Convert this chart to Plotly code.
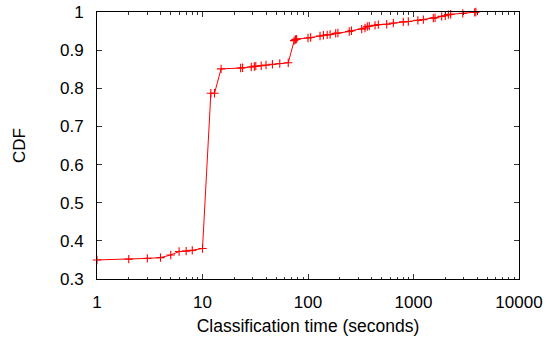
import plotly.graph_objects as go

# Classification time (seconds) and cumulative fraction
times = [1, 2, 3, 4, 5, 6, 7, 8, 10, 12, 13, 15, 23, 24, 29, 31, 32, 36, 40, 46, 54, 65,
         74, 76, 78, 100, 106, 130, 140, 152, 162, 183, 192, 246, 258, 323, 347, 365, 381,
         432, 464, 557, 644, 800, 893, 1100, 1240, 1540, 1600, 1850, 2000, 2140, 2250,
         2930, 3800, 3900]
cdf = [0.350, 0.352, 0.354, 0.356, 0.363, 0.372, 0.373, 0.375, 0.380, 0.787, 0.787, 0.851,
       0.853, 0.854, 0.856, 0.857, 0.858, 0.859, 0.861, 0.863, 0.865, 0.867,
       0.925, 0.928, 0.929, 0.932, 0.933, 0.937, 0.939, 0.940, 0.941, 0.944, 0.945, 0.949,
       0.951, 0.955, 0.958, 0.962, 0.963, 0.965, 0.967, 0.968, 0.971, 0.974, 0.975, 0.978,
       0.980, 0.984, 0.985, 0.9885, 0.990, 0.993, 0.994, 0.9965, 0.999, 1.0]

x_ticks = [1, 10, 100, 1000, 10000]
x_tick_labels = ["1", "10", "100", "1000", "10000"]
y_ticks = [0.3, 0.4, 0.5, 0.6, 0.7, 0.8, 0.9, 1.0]
y_tick_labels = ["0.3", "0.4", "0.5", "0.6", "0.7", "0.8", "0.9", "1"]

FONT = "Liberation Sans, Arial, Helvetica, sans-serif"

fig = go.Figure()
fig.add_trace(go.Scatter(
    x=times, y=cdf, mode="lines+markers",
    line=dict(color="#ff0000", width=1),
    marker=dict(symbol="cross-thin", size=6, line=dict(color="#ff0000", width=1.1)),
    showlegend=False, cliponaxis=False,
))

fig.update_layout(
    width=554, height=339,
    margin=dict(l=97, r=35, t=12, b=60, autoexpand=False),
    paper_bgcolor="white", plot_bgcolor="white",
    font=dict(family=FONT, size=17, color="black"),
)
fig.update_xaxes(
    type="log", range=[0, 4], automargin=False,
    tickvals=x_ticks, ticktext=x_tick_labels,
    ticks="inside", ticklen=5, tickwidth=1, tickcolor="#333",
    minor=dict(ticks="inside", ticklen=2.5, tickwidth=1, tickcolor="#333",
               tickvals=[m * d for d in [1, 10, 100, 1000] for m in range(2, 10)]),
    showline=True, linecolor="black", linewidth=1, mirror="allticks",
    showgrid=False, zeroline=False,
    title=dict(text="Classification time (seconds)", font=dict(size=17.5), standoff=8),
    ticklabelstandoff=8,
)
fig.update_yaxes(
    range=[0.3, 1.0], automargin=False,
    tickvals=y_ticks, ticktext=y_tick_labels,
    ticks="inside", ticklen=5, tickwidth=1, tickcolor="#333",
    showline=True, linecolor="black", linewidth=1, mirror="allticks",
    showgrid=False, zeroline=False,
    title=dict(text="CDF", font=dict(size=17), standoff=30),
    ticklabelstandoff=9,
)

fig.write_html("out.html", config={"displayModeBar": False},
               post_script="document.body.style.margin='0';")
